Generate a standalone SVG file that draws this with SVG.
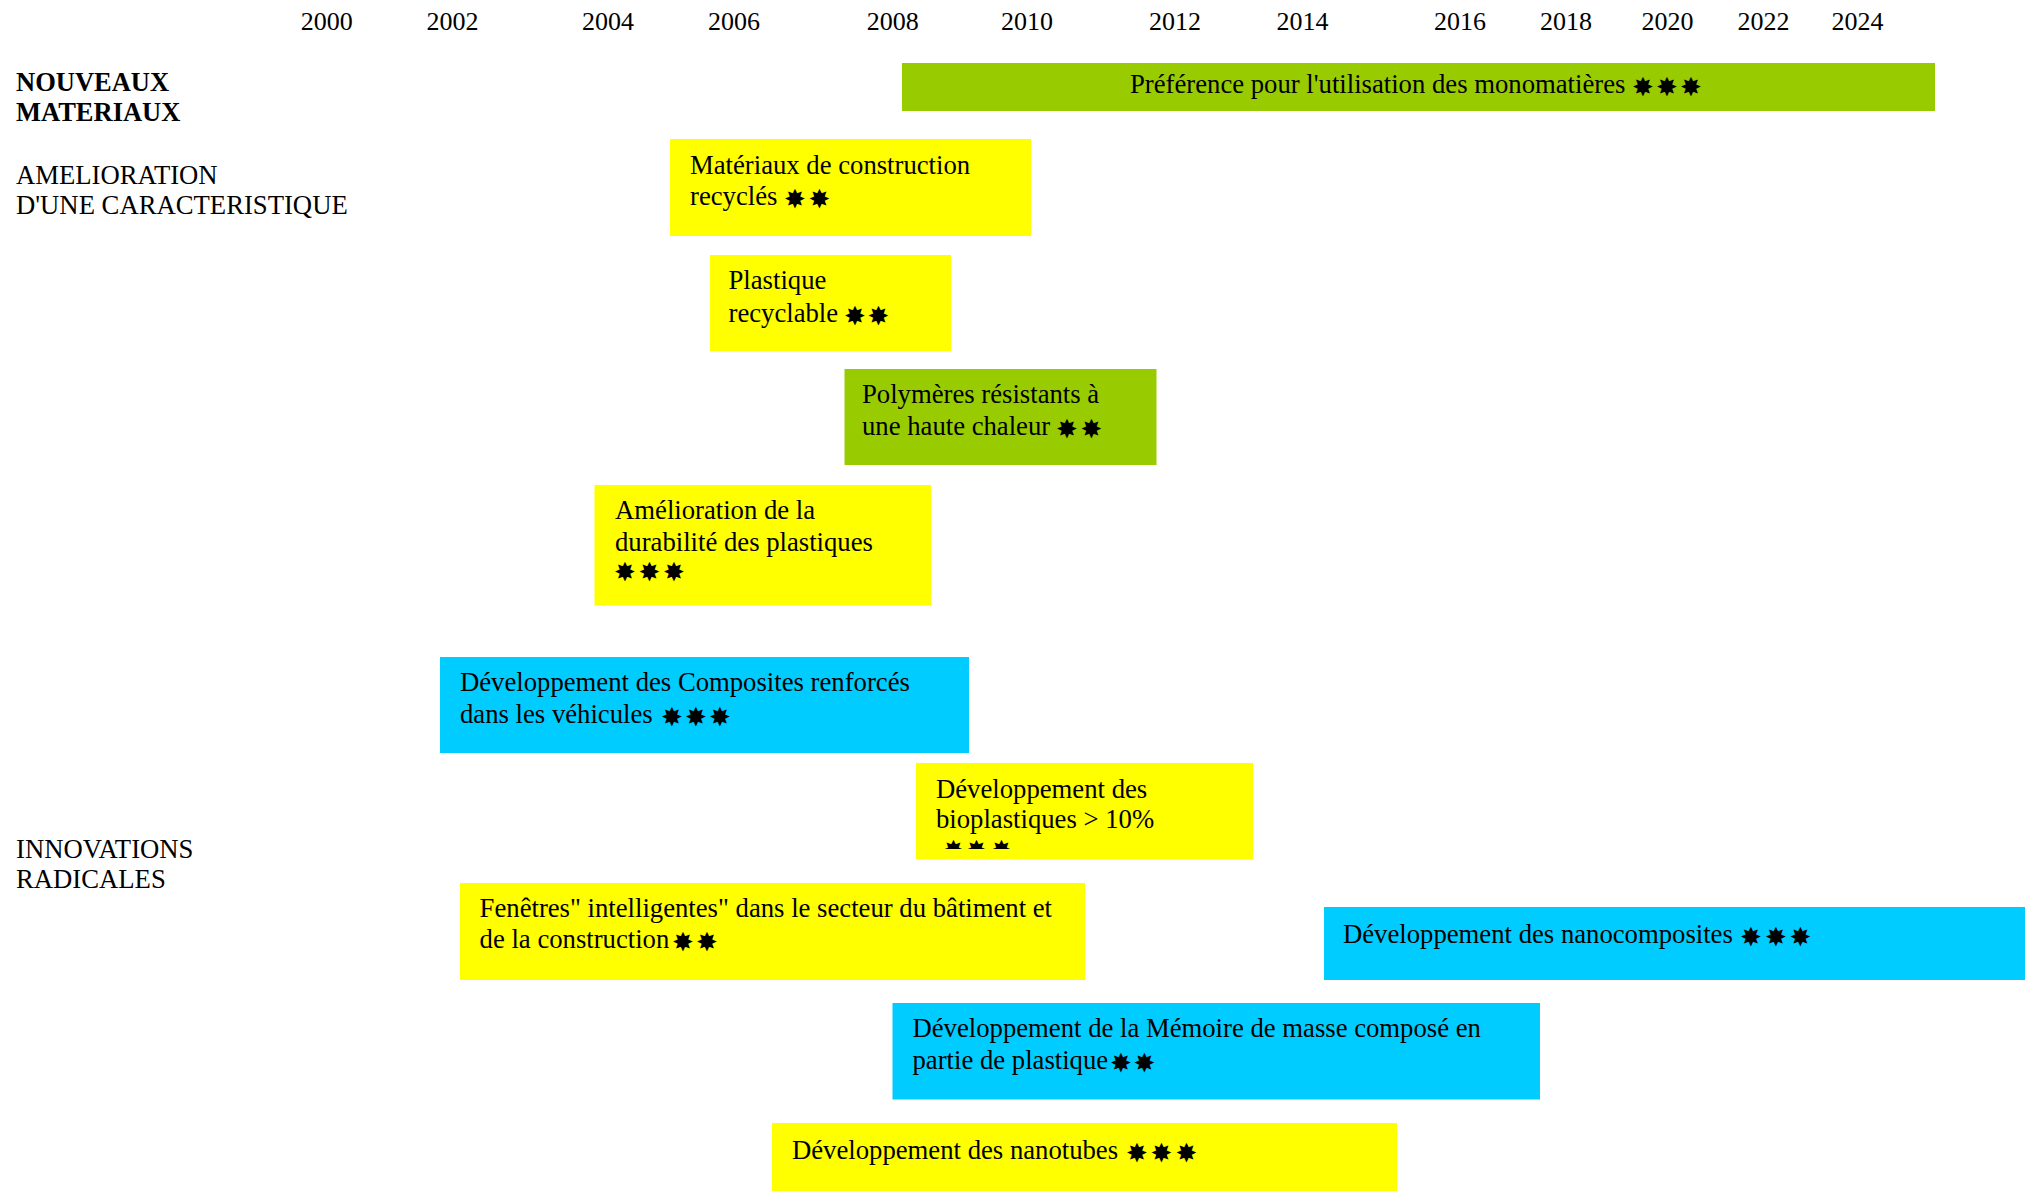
<svg xmlns="http://www.w3.org/2000/svg" width="2031" height="1191" viewBox="0 0 2031 1191">
  <style>
    text { font-family: "Liberation Serif", "Times New Roman", serif; fill: #000; }
    .yr { font-size: 26px; text-anchor: middle; }
    .lbl { font-size: 26.7px; }
    .lbl-b { font-size: 26.5px; font-weight: bold; }
    .t { font-size: 26.7px; }
    .st { font-family: "DejaVu Sans", sans-serif; font-size: 26px; text-anchor: middle; }
    .yellow { fill: #FFFF00; }
    .green { fill: #99CC00; }
    .cyan { fill: #00CCFF; }
  </style>
  <defs>
    <clipPath id="bioClip">
      <rect x="916" y="763" width="337" height="86"/>
    </clipPath>
  </defs>
  <rect width="2031" height="1191" fill="#FFFFFF"/>

  <!-- timeline axis: years -->
  <g id="years">
    <text class="yr" x="326.7" y="29.5">2000</text>
    <text class="yr" x="452.5" y="29.5">2002</text>
    <text class="yr" x="608" y="29.5">2004</text>
    <text class="yr" x="734" y="29.5">2006</text>
    <text class="yr" x="892.7" y="29.5">2008</text>
    <text class="yr" x="1027" y="29.5">2010</text>
    <text class="yr" x="1175" y="29.5">2012</text>
    <text class="yr" x="1302.5" y="29.5">2014</text>
    <text class="yr" x="1460" y="29.5">2016</text>
    <text class="yr" x="1566" y="29.5">2018</text>
    <text class="yr" x="1667.5" y="29.5">2020</text>
    <text class="yr" x="1763.5" y="29.5">2022</text>
    <text class="yr" x="1857.5" y="29.5">2024</text>
  </g>

  <!-- row categories -->
  <g id="cat-nouveaux">
    <text class="lbl-b" x="16" y="91">NOUVEAUX</text>
    <text class="lbl-b" x="16" y="120.5">MATERIAUX</text>
  </g>
  <g id="cat-amelioration">
    <text class="lbl" x="16" y="184.3">AMELIORATION</text>
    <text class="lbl" x="16" y="214.3">D'UNE CARACTERISTIQUE</text>
  </g>
  <g id="cat-innovations">
    <text class="lbl" x="16" y="858">INNOVATIONS</text>
    <text class="lbl" x="16" y="888">RADICALES</text>
  </g>

  <!-- no connectors in this chart -->
  <g id="connectors"/>

  <!-- timeline bars; rating stars sit slightly below the text baseline to centre the glyph -->
  <g id="monomatieres">
    <rect class="green" x="902" y="63" width="1033" height="48"/>
    <text class="t" x="1130" y="92.5">Préférence pour l'utilisation des monomatières</text>
    <text class="st" x="1643" y="95.5">✸</text>
    <text class="st" x="1667" y="95.5">✸</text>
    <text class="st" x="1691" y="95.5">✸</text>
  </g>

  <g id="materiaux-recycles">
    <rect class="yellow" x="670" y="139" width="361" height="97"/>
    <text class="t" x="690" y="174">Matériaux de construction</text>
    <text class="t" x="690" y="205">recyclés</text>
    <text class="st" x="795" y="208">✸</text>
    <text class="st" x="819.5" y="208">✸</text>
  </g>

  <g id="plastique-recyclable">
    <rect class="yellow" x="710" y="255" width="241" height="96"/>
    <text class="t" x="728.5" y="288.5">Plastique</text>
    <text class="t" x="728.5" y="321.5">recyclable</text>
    <text class="st" x="855" y="324.5">✸</text>
    <text class="st" x="878.5" y="324.5">✸</text>
  </g>

  <g id="polymeres">
    <rect class="green" x="844.5" y="369" width="312" height="96"/>
    <text class="t" x="862" y="403.3">Polymères résistants à</text>
    <text class="t" x="862" y="435">une haute chaleur</text>
    <text class="st" x="1067" y="438">✸</text>
    <text class="st" x="1091.5" y="438">✸</text>
  </g>

  <g id="durabilite">
    <rect class="yellow" x="594.5" y="485" width="336.5" height="120.5"/>
    <text class="t" x="615" y="519">Amélioration de la</text>
    <text class="t" x="615" y="551">durabilité des plastiques</text>
    <text class="st" x="625" y="580.5">✸</text>
    <text class="st" x="649.5" y="580.5">✸</text>
    <text class="st" x="674" y="580.5">✸</text>
  </g>

  <g id="composites">
    <rect class="cyan" x="440" y="657" width="529" height="96"/>
    <text class="t" x="460" y="691">Développement des Composites renforcés</text>
    <text class="t" x="460" y="723">dans les véhicules</text>
    <text class="st" x="672" y="726">✸</text>
    <text class="st" x="696" y="726">✸</text>
    <text class="st" x="720" y="726">✸</text>
  </g>

  <g id="bioplastiques">
    <rect class="yellow" x="916" y="763" width="337" height="96.5"/>
    <text class="t" x="936" y="798.3">Développement des</text>
    <text class="t" x="936" y="828.3">bioplastiques &gt; 10%</text>
    <g clip-path="url(#bioClip)">
      <text class="st" x="953.5" y="859">✸</text>
      <text class="st" x="976.5" y="859">✸</text>
      <text class="st" x="1001.5" y="859">✸</text>
    </g>
  </g>

  <g id="fenetres">
    <rect class="yellow" x="460" y="883" width="625" height="97"/>
    <text class="t" x="479.6" y="916.8">Fenêtres" intelligentes" dans le secteur du bâtiment et</text>
    <text class="t" x="479.6" y="947.7">de la construction</text>
    <text class="st" x="683" y="950.7">✸</text>
    <text class="st" x="707" y="950.7">✸</text>
  </g>

  <g id="nanocomposites">
    <rect class="cyan" x="1324" y="907" width="701" height="73"/>
    <text class="t" x="1343" y="943.4">Développement des nanocomposites</text>
    <text class="st" x="1751" y="946.4">✸</text>
    <text class="st" x="1776" y="946.4">✸</text>
    <text class="st" x="1800.5" y="946.4">✸</text>
  </g>

  <g id="memoire">
    <rect class="cyan" x="892.5" y="1003" width="647.5" height="96.5"/>
    <text class="t" x="912.5" y="1037">Développement de la Mémoire de masse composé en</text>
    <text class="t" x="912.5" y="1068.6">partie de plastique</text>
    <text class="st" x="1121" y="1071.6">✸</text>
    <text class="st" x="1144.5" y="1071.6">✸</text>
  </g>

  <g id="nanotubes">
    <rect class="yellow" x="772" y="1123" width="625" height="68"/>
    <text class="t" x="792" y="1159">Développement des nanotubes</text>
    <text class="st" x="1137" y="1162">✸</text>
    <text class="st" x="1161.5" y="1162">✸</text>
    <text class="st" x="1186.5" y="1162">✸</text>
  </g>
</svg>
